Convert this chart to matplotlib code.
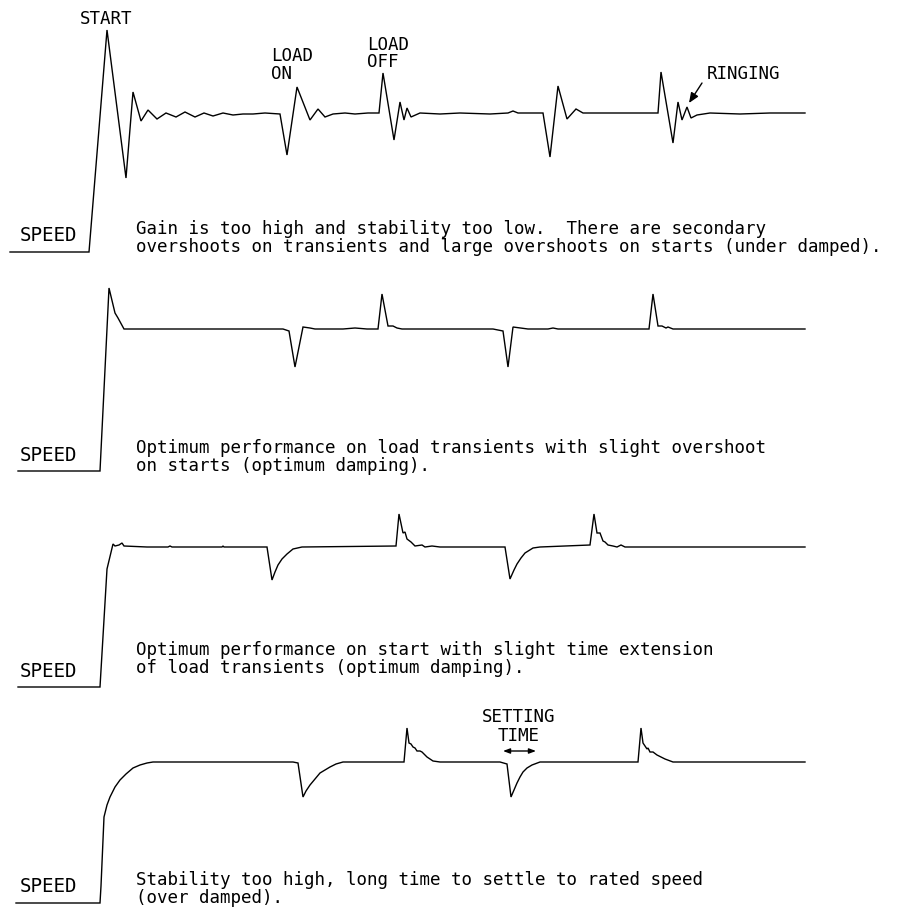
import matplotlib.pyplot as plt

# traces, in pixel units (x right, y down)
under_damped = [(10, 252), (89, 252), (107, 30), (126, 178), (133, 92), (141, 121),
                (148, 110), (157, 119), (166, 113), (176, 117), (185, 112), (195, 117),
                (204, 113), (213, 116), (223, 113), (233, 115), (243, 114), (253, 114),
                (265, 113), (280, 114), (287, 155), (297, 87), (310, 120), (318, 109),
                (325, 117), (333, 114), (345, 113), (355, 114), (368, 113), (379, 113),
                (383, 73), (394, 140), (400, 102), (404, 120), (407, 108), (411, 117),
                (420, 113), (440, 114), (460, 113), (490, 114), (508, 113), (513, 111),
                (518, 113), (543, 113), (550, 157), (558, 86), (567, 119), (576, 109),
                (583, 113), (658, 113), (661, 72), (673, 143), (678, 102), (682, 120),
                (687, 107), (691, 118), (697, 115), (710, 113), (740, 114), (770, 113),
                (805, 113)]

optimum_load = [(18, 471), (100, 471), (109, 288), (115, 313), (118, 318), (124, 329),
                (283, 329), (289, 331), (295, 367), (303, 327), (310, 328), (315, 329),
                (343, 329), (355, 328), (367, 329), (378, 329), (382, 294), (388, 326),
                (393, 326), (397, 328), (402, 329), (493, 329), (503, 331), (508, 367),
                (513, 327), (528, 329), (548, 329), (553, 328), (558, 329), (649, 329),
                (653, 294), (658, 326), (662, 326), (666, 328), (668, 327), (673, 329),
                (805, 329)]

optimum_start = [(18, 687), (100, 687), (107, 569), (113, 544), (115, 546), (119, 545),
                 (122, 543), (124, 546), (147, 547), (168, 547), (170, 546), (172, 547),
                 (222, 547), (223, 546), (224, 547), (267, 547), (272, 580), (275, 572),
                 (278, 565), (282, 559), (287, 554), (293, 549), (302, 547), (396, 546),
                 (399, 514), (403, 533), (405, 532), (407, 539), (411, 542), (415, 546),
                 (422, 545), (425, 547), (432, 546), (440, 547), (505, 547), (510, 579),
                 (514, 570), (517, 564), (521, 558), (525, 553), (533, 548), (540, 547),
                 (590, 545), (594, 514), (597, 533), (600, 533), (603, 541), (605, 542),
                 (608, 545), (613, 546), (617, 547), (621, 545), (625, 547), (805, 547)]

over_damped = [(16, 903), (100, 903), (101, 886), (104, 817), (107, 805), (110, 797),
               (115, 787), (120, 780), (126, 774), (133, 768), (140, 765), (147, 763),
               (153, 762), (293, 762), (298, 763), (303, 797), (306, 791), (310, 785),
               (315, 779), (320, 773), (325, 770), (330, 767), (336, 764), (343, 762),
               (404, 762), (407, 728), (409, 743), (411, 744), (413, 747), (415, 748),
               (417, 751), (420, 751), (422, 752), (427, 757), (433, 761), (440, 762),
               (500, 762), (507, 764), (511, 797), (514, 790), (517, 783), (520, 777),
               (523, 772), (527, 768), (532, 765), (540, 762), (638, 762), (641, 728),
               (643, 743), (645, 746), (647, 749), (648, 748), (650, 752), (653, 752),
               (657, 755), (665, 759), (673, 762), (805, 762)]

traces = [under_damped, optimum_load, optimum_start, over_damped]

captions = [
    ["Gain is too high and stability too low.  There are secondary",
     "overshoots on transients and large overshoots on starts (under damped)."],
    ["Optimum performance on load transients with slight overshoot",
     "on starts (optimum damping)."],
    ["Optimum performance on start with slight time extension",
     "of load transients (optimum damping)."],
    ["Stability too high, long time to settle to rated speed",
     "(over damped)."],
]
caption_y = [(234, 252), (453, 471), (655, 673), (885, 903)]
speed_y = [241, 461, 677, 892]

FONT = "DejaVu Sans Mono"
FS = 12.6

fig = plt.figure(figsize=(9.1, 9.09), dpi=100)
ax = fig.add_axes([0, 0, 1, 1])
ax.set_xlim(0, 910)
ax.set_ylim(909, 0)
ax.axis("off")

for tr in traces:
    xs = [p[0] for p in tr]
    ys = [p[1] for p in tr]
    ax.plot(xs, ys, color="black", lw=1.0, solid_joinstyle="miter")

for lines, (y1, y2), sy in zip(captions, caption_y, speed_y):
    ax.text(136, y1, lines[0], family=FONT, fontsize=FS, va="baseline")
    ax.text(136, y2, lines[1], family=FONT, fontsize=FS, va="baseline")
    ax.text(20, sy, "SPEED", family=FONT, fontsize=13.8, va="baseline")

# event labels
ax.text(80, 24, "START", family=FONT, fontsize=FS, va="baseline")
ax.text(271, 61, "LOAD", family=FONT, fontsize=FS, va="baseline")
ax.text(271, 79, "ON", family=FONT, fontsize=FS, va="baseline")
ax.text(367, 50, "LOAD", family=FONT, fontsize=FS, va="baseline")
ax.text(367, 67, "OFF", family=FONT, fontsize=FS, va="baseline")
ax.text(707, 79, "RINGING", family=FONT, fontsize=FS, va="baseline")
ax.text(519, 722, "SETTING", family=FONT, fontsize=FS, va="baseline", ha="center")
ax.text(519, 741, "TIME", family=FONT, fontsize=FS, va="baseline", ha="center")

ax.annotate("", xy=(689, 103), xytext=(702, 83),
            arrowprops=dict(arrowstyle="-|>,head_length=0.6,head_width=0.25",
                            color="black", lw=1.0, shrinkA=0, shrinkB=0))
ax.annotate("", xy=(503, 751), xytext=(536, 751),
            arrowprops=dict(arrowstyle="<|-|>,head_length=0.4,head_width=0.15",
                            color="black", lw=1.0, shrinkA=0, shrinkB=0))

fig.savefig("out.png", dpi=100, facecolor="white")
